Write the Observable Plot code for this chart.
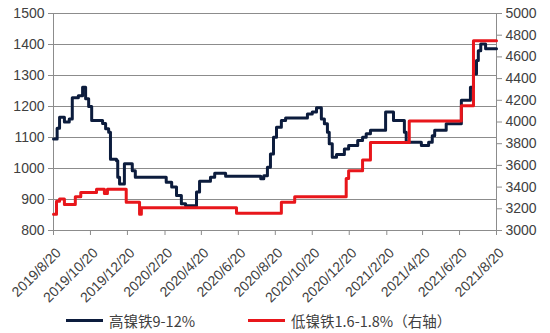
<!DOCTYPE html>
<html><head><meta charset="utf-8">
<script src="https://cdn.jsdelivr.net/npm/d3@7"></script>
<script src="https://cdn.jsdelivr.net/npm/@observablehq/plot@0.6"></script>
<style>
body{margin:0;background:#fff;font-family:"Liberation Sans",Arial,"Noto Sans CJK SC",sans-serif;}
#wrap{position:relative;width:550px;height:333px;}
#legend{position:absolute;left:0;top:308px;width:550px;height:25px;font-size:14.5px;color:#404040;}
.sw{position:absolute;top:11px;width:37px;height:3px;}
.lt{position:absolute;top:2px;white-space:nowrap;font-family:"Noto Sans CJK SC","Liberation Sans",sans-serif;}
</style></head><body>
<div id="wrap"><div id="chart"></div>
<div id="legend">
<div class="sw" style="left:66px;background:#0c1c3d"></div><div class="lt" style="left:109px">高镍铁9-12%</div>
<div class="sw" style="left:248px;background:#e8161b"></div><div class="lt" style="left:291px">低镍铁1.6-1.8%（右轴）</div>
</div></div>
<script>
const highDates = ["2019-08-20","2019-08-26","2019-08-30","2019-09-07","2019-09-15","2019-09-20","2019-09-30","2019-10-07","2019-10-12","2019-10-17","2019-10-22","2019-11-09","2019-11-14","2019-11-19","2019-11-22","2019-12-02","2019-12-04","2019-12-07","2019-12-15","2019-12-28","2020-01-02","2020-02-22","2020-03-02","2020-03-10","2020-03-18","2020-03-25","2020-04-12","2020-04-17","2020-05-05","2020-05-12","2020-05-30","2020-07-27","2020-08-01","2020-08-07","2020-08-12","2020-08-17","2020-08-22","2020-08-30","2020-09-06","2020-10-12","2020-10-20","2020-10-27","2020-11-04","2020-11-09","2020-11-14","2020-11-17","2020-11-22","2020-11-29","2020-12-12","2020-12-19","2021-01-03","2021-01-11","2021-01-17","2021-01-24","2021-02-18","2021-03-03","2021-03-21","2021-03-24","2021-04-18","2021-04-30","2021-05-06","2021-05-10","2021-05-29","2021-06-23","2021-07-08","2021-07-13","2021-07-18","2021-07-21","2021-07-25","2021-08-02","2021-08-20"];
const highValues = [1095,1130,1165,1150,1160,1228,1235,1262,1225,1200,1155,1145,1128,1117,1030,1025,972,950,1015,993,972,956,940,913,886,880,924,959,972,985,975,967,977,1004,1047,1101,1133,1155,1163,1176,1182,1196,1160,1144,1117,1080,1036,1045,1063,1074,1090,1101,1112,1123,1182,1155,1117,1085,1074,1085,1106,1123,1144,1220,1262,1305,1348,1380,1402,1386,1386];
const lowDates = ["2019-08-20","2019-08-25","2019-08-30","2019-09-07","2019-09-25","2019-10-04","2019-10-30","2019-11-12","2019-11-17","2019-12-18","2020-01-09","2020-01-12","2020-06-17","2020-08-30","2020-09-21","2020-12-15","2020-12-19","2021-01-11","2021-01-24","2021-03-29","2021-06-23","2021-07-13","2021-08-20"];
const lowValues = [3150,3270,3290,3240,3310,3350,3380,3340,3380,3260,3150,3210,3160,3260,3310,3480,3550,3650,3810,4010,4150,4750,4750];
const xTickLabels = ["2019/8/20","2019/10/20","2019/12/20","2020/2/20","2020/4/20","2020/6/20","2020/8/20","2020/10/20","2020/12/20","2021/2/20","2021/4/20","2021/6/20","2021/8/20"];
const leftTicks = [800,900,1000,1100,1200,1300,1400,1500];
const rightTicks = [3000,3200,3400,3600,3800,4000,4200,4400,4600,4800,5000];

const L0=800,L1=1500,R0=3000,R1=5000;
const r2l = v => L0 + (v-R0)*(L1-L0)/(R1-R0);
const l2r = v => R0 + (v-L0)*(R1-R0)/(L1-L0);
const parse = s => new Date(s+"T00:00:00Z");
const high = highDates.map((d,i)=>({date:parse(d), v:highValues[i]}));
const low = lowDates.map((d,i)=>({date:parse(d), v:r2l(lowValues[i])}));
const xTicks = xTickLabels.map(s=>{const [y,m,d]=s.split("/");return new Date(Date.UTC(+y,+m-1,+d));});
const labelOf = new Map(xTicks.map((t,i)=>[+t,xTickLabels[i]]));
const x0 = xTicks[0], x1 = xTicks[xTicks.length-1];
const grey="#8c8c8c", txt="#404040";

const chart = Plot.plot({
  width:550, height:308, marginLeft:53, marginRight:54, marginTop:13, marginBottom:78,
  style:{fontFamily:'"Liberation Sans",Arial,sans-serif', fontSize:"14px", background:"#fff", overflow:"visible"},
  x:{type:"utc", domain:[x0,x1]},
  y:{domain:[L0,L1]},
  marks:[
    Plot.ruleY(leftTicks.slice(1), {stroke:grey, strokeWidth:1}),
    Plot.ruleY([L0], {stroke:grey, strokeWidth:1}),
    Plot.ruleX([x0], {stroke:grey, strokeWidth:1}),
    Plot.ruleX([x1], {stroke:grey, strokeWidth:1}),
    Plot.axisY(leftTicks, {anchor:"left", tickSize:5, tickPadding:4, stroke:grey, fill:txt, tickFormat:d=>String(d), label:null}),
    Plot.axisY(rightTicks.map(r2l), {anchor:"right", tickSize:5, tickPadding:4, stroke:grey, fill:txt, tickFormat:d=>String(Math.round(l2r(d))), label:null}),
    Plot.axisX(xTicks, {anchor:"bottom", tickSize:5, stroke:grey, text:null, tickFormat:null, label:null}),
    Plot.text(xTicks, {x:d=>d, frameAnchor:"bottom", text:d=>labelOf.get(+d), rotate:-45, textAnchor:"end", lineAnchor:"middle", dx:5, dy:20, fill:txt, fontSize:14}),
    Plot.line(high, {x:"date", y:"v", curve:"step-after", stroke:"#0c1c3d", strokeWidth:3}),
    Plot.line(low, {x:"date", y:"v", curve:"step-after", stroke:"#e8161b", strokeWidth:3})
  ]
});
document.getElementById("chart").appendChild(chart);
</script></body></html>
